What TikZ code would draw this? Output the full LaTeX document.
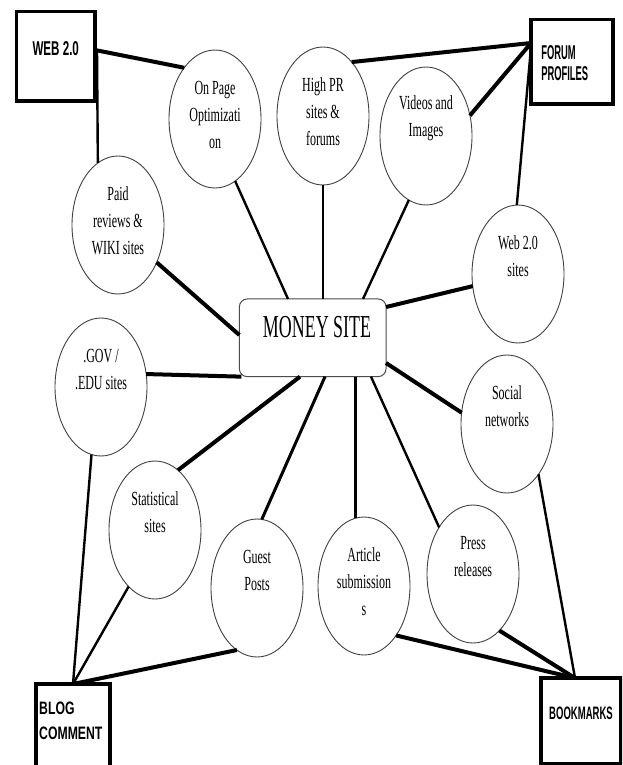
\documentclass[tikz,border=0pt]{standalone}
\usepackage{fontspec}
\usetikzlibrary{shapes.geometric}
\newfontfamily\ellf[FakeStretch=0.6]{Liberation Serif}
\newfontfamily\moneyf[FakeStretch=0.56]{Liberation Serif}
\newfontfamily\webf[FakeStretch=0.58]{Liberation Sans}
\newfontfamily\forf[FakeStretch=0.47]{Liberation Sans}
\newfontfamily\blogf[FakeStretch=0.68]{Liberation Sans}
\newfontfamily\bookf[FakeStretch=0.53]{Liberation Sans}
\begin{document}
\begin{tikzpicture}[x=1pt,y=-1pt,
  bub/.style={ellipse,draw=black!75,line width=0.9pt,fill=white,minimum width=92pt,minimum height=138pt,inner sep=0pt,outer sep=0pt},
  etxt/.style={inner sep=0pt,align=center,font=\ellf\fontsize{20}{27}\selectfont,yshift=17.5pt},
  etxtb/.style={inner sep=0pt,align=center,font=\ellf\fontsize{20}{27}\selectfont,yshift=4pt},
  sbox/.style={draw=black,line width=3.5pt,fill=white,inner sep=0pt,outer sep=0pt},
  fat/.style={line width=4pt},
  slim/.style={line width=2.4pt}]
\useasboundingbox (0,0) rectangle (622,765);
\clip (0,0) rectangle (622,765);
\fill[white] (0,0) rectangle (622,765);

% boxes
\node[sbox,minimum width=78.5pt,minimum height=89.5pt,
  label={[inner sep=0pt,yshift=7.75pt,font=\webf\bfseries\fontsize{20}{22}\selectfont]center:WEB 2.0}] (web) at (55.75,56.25) {};
\node[sbox,minimum width=81.7pt,minimum height=84.1pt,
  label={[anchor=west,inner sep=0pt,xshift=10pt,yshift=-1.75pt,align=left,font=\forf\bfseries\fontsize{20}{21}\selectfont]west:FORUM\\PROFILES}] (forum) at (571.9,61.75) {};
\node[sbox,minimum width=74pt,minimum height=106pt,
  label={[anchor=west,inner sep=0pt,xshift=3pt,yshift=16.5pt,align=left,font=\blogf\bfseries\fontsize{18}{25}\selectfont]west:BLOG\\COMMENT}] (blog) at (73,737) {};
\node[sbox,minimum width=80pt,minimum height=85.3pt,
  label={[inner sep=0pt,yshift=7.7pt,font=\bookf\bfseries\fontsize{18}{20}\selectfont]center:BOOKMARKS}] (book) at (581,720.7) {};

% money site
\node[draw=black!70,line width=1pt,fill=white,rounded corners=8pt,minimum width=146.7pt,minimum height=77.7pt,inner sep=0pt,outer sep=0pt,
  label={[inner sep=0pt,xshift=4.3pt,yshift=10.3pt,font=\moneyf\fontsize{32}{34}\selectfont]center:MONEY SITE}] (money) at (312.7,337.8) {};

% ellipses
\node[bub,label={[etxtb]center:On Page\\Optimizati\\on}] (onpage) at (215,119) {};
\node[bub,label={[etxtb]center:High PR\\sites \&\\forums}] (highpr) at (323,116) {};
\node[bub,label={[etxt]center:Videos and\\Images}] (videos) at (426,136) {};
\node[bub,label={[etxt]center:Web 2.0\\sites}] (web20s) at (518,274) {};
\node[bub,label={[etxt]center:Social\\networks}] (social) at (507,424) {};
\node[bub,label={[etxt]center:Press\\releases}] (press) at (473,574) {};
\node[bub,label={[etxtb]center:Article\\submission\\s}] (article) at (364,586) {};
\node[bub,label={[etxt]center:Guest\\Posts}] (guest) at (257,588) {};
\node[bub,label={[etxt]center:Statistical\\sites}] (stat) at (155,530) {};
\node[bub,label={[etxt]center:.GOV /\\.EDU sites}] (gov) at (101,387) {};
\node[bub,label={[etxtb]center:Paid\\reviews \&\\WIKI sites}] (paid) at (118,225) {};

% connectors
\draw[fat] ([yshift=6.25pt]web.east) -- (onpage.121.5);
\draw[slim] ([xshift=2pt,yshift=6.25pt]web.east) -- (paid.108.7);
\draw[slim] (onpage.-72) -- ([xshift=-24.7pt]money.north);
\draw[slim] (highpr.south) -- (highpr.south |- money.north);
\draw[slim] (videos.-105.5) -- ([xshift=50.3pt]money.north);
\draw[fat] (highpr.62.6) -- ([yshift=18.75pt]forum.west);
\draw[fat] (videos.25.5) -- ([yshift=18.75pt]forum.west);
\draw[slim] ([yshift=14.75pt]forum.west) -- (web20s.91);
\draw[fat] ([yshift=30.8pt]money.east) -- (web20s.195);
\draw[fat] ([yshift=-25.2pt]money.east) -- (social.166);
\draw[slim] (social.-58.6) -- ([xshift=-6pt]book.north);
\draw[slim] ([xshift=58.3pt]money.south) -- (press.126.7);
\draw[slim] (article.97 |- money.south) -- (article.97);
\draw[line width=3pt] ([xshift=12.3pt]money.south) -- (guest.86);
\draw[fat] ([xshift=-12.7pt]money.south) -- (stat.69);
\draw[fat] (gov.16) -- ([xshift=2pt]money.south west);
\draw[fat] (paid.-44.3) -- ([yshift=2.8pt]money.west);
\draw[slim] (gov.-98.4) -- (blog.north);
\draw[slim] (stat.-115) -- (blog.north);
\draw[fat] (guest.-108.7) -- (blog.north);
\draw[fat] (article.-57.6) -- ([xshift=-6pt]book.north);
\draw[fat] (press.-65) -- ([xshift=-6pt]book.north);
\end{tikzpicture}
\end{document}
